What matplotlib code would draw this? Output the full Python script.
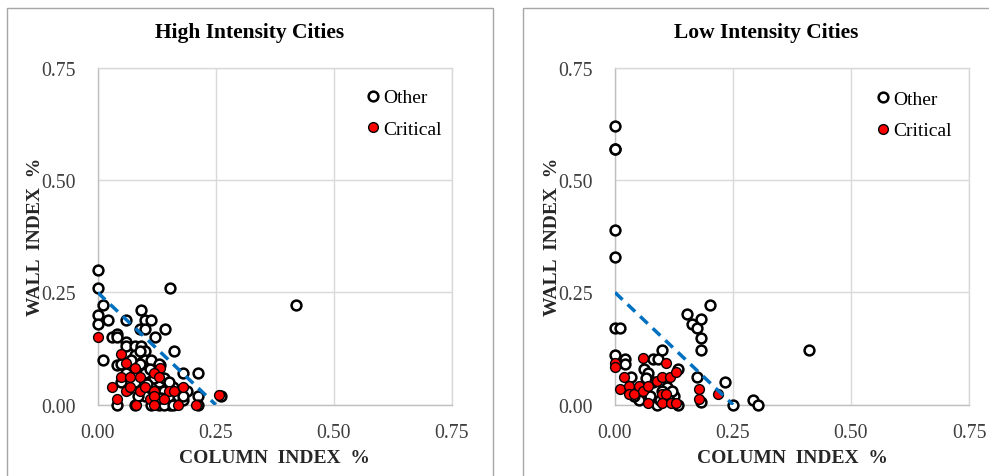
import matplotlib
matplotlib.use("Agg")
import matplotlib.pyplot as plt
from matplotlib.patches import Rectangle
from matplotlib.lines import Line2D

plt.rcParams['font.family'] = ['Liberation Serif', 'DejaVu Serif']

# ---------------- data ----------------
high_other_x = [0.0, 0.0, 0.153, 0.42, 0.011, 0.0, 0.0, 0.021, 0.061, 0.092, 0.10, 0.112,
                0.089, 0.10, 0.142, 0.030, 0.041, 0.041, 0.061, 0.061, 0.121, 0.079, 0.092,
                0.10, 0.161, 0.011, 0.041, 0.10, 0.112, 0.132, 0.181, 0.213, 0.213, 0.262,
                0.041, 0.079, 0.112, 0.153, 0.213,
                0.05, 0.07, 0.08, 0.09, 0.10, 0.11, 0.12, 0.13, 0.14, 0.14, 0.15, 0.16,
                0.17, 0.18, 0.19, 0.13, 0.14, 0.10, 0.12, 0.16, 0.08, 0.06, 0.07, 0.09,
                0.11, 0.13, 0.05, 0.18, 0.12, 0.15, 0.085, 0.105, 0.065, 0.135]
high_other_y = [0.30, 0.259, 0.259, 0.221, 0.221, 0.20, 0.18, 0.189, 0.189, 0.21, 0.189, 0.189,
                0.168, 0.168, 0.168, 0.15, 0.158, 0.15, 0.14, 0.131, 0.15, 0.131, 0.131,
                0.119, 0.119, 0.10, 0.089, 0.10, 0.10, 0.089, 0.07, 0.07, 0.019, 0.019,
                0.0, 0.0, 0.0, 0.0, 0.0,
                0.09, 0.08, 0.11, 0.09, 0.07, 0.05, 0.04, 0.05, 0.06, 0.03, 0.02, 0.04,
                0.02, 0.01, 0.03, 0.0, 0.0, 0.02, 0.01, 0.0, 0.05, 0.07, 0.10, 0.12,
                0.08, 0.09, 0.05, 0.02, 0.06, 0.05, 0.02, 0.045, 0.035, 0.015]

high_crit_x = [0.0, 0.049, 0.059, 0.079, 0.131, 0.049, 0.069, 0.090, 0.12, 0.130, 0.030,
               0.059, 0.069, 0.089, 0.10, 0.12, 0.151, 0.161, 0.181, 0.041, 0.11, 0.12,
               0.14, 0.081, 0.12, 0.171, 0.209, 0.258]
high_crit_y = [0.15, 0.112, 0.092, 0.082, 0.082, 0.061, 0.061, 0.061, 0.071, 0.061, 0.04,
               0.031, 0.04, 0.031, 0.04, 0.031, 0.031, 0.031, 0.04, 0.013, 0.013, 0.02,
               0.013, 0.0, 0.0, 0.0, 0.0, 0.021]

low_other_x = [0.0, 0.0, 0.0, 0.0, 0.0, 0.0, 0.01, 0.0, 0.021, 0.021, 0.033, 0.081, 0.091,
               0.10, 0.061, 0.133, 0.153, 0.163, 0.173, 0.183, 0.202, 0.183, 0.183, 0.173,
               0.232, 0.183, 0.25, 0.292, 0.303, 0.41, 0.051, 0.09, 0.133, 0.125,
               0.07, 0.08, 0.065, 0.11, 0.12, 0.10, 0.04, 0.075, 0.095, 0.115, 0.06]
low_other_y = [0.62, 0.57, 0.57, 0.39, 0.33, 0.17, 0.17, 0.111, 0.101, 0.09, 0.061, 0.101,
               0.101, 0.122, 0.08, 0.08, 0.201, 0.18, 0.17, 0.191, 0.222, 0.148, 0.122, 0.061,
               0.05, 0.007, 0.0, 0.01, 0.0, 0.122, 0.01, 0.0, 0.0, 0.02,
               0.07, 0.05, 0.06, 0.04, 0.03, 0.03, 0.02, 0.02, 0.01, 0.01, 0.035]

low_crit_x = [0.0, 0.0, 0.02, 0.01, 0.03, 0.03, 0.04, 0.05, 0.06, 0.06, 0.07, 0.07, 0.089,
              0.099, 0.109, 0.117, 0.129, 0.099, 0.109, 0.099, 0.119, 0.130, 0.178, 0.178,
              0.218]
low_crit_y = [0.093, 0.083, 0.062, 0.034, 0.042, 0.024, 0.024, 0.042, 0.031, 0.104, 0.042,
              0.003, 0.052, 0.062, 0.093, 0.062, 0.073, 0.024, 0.024, 0.003, 0.003, 0.003,
              0.034, 0.013, 0.024]

threshold_x = [0.0, 0.25]
threshold_y = [0.25, 0.0]

ticks = [0.0, 0.25, 0.5, 0.75]
tick_labels = ["0.00", "0.25", "0.50", "0.75"]

# ---------------- figure ----------------
W, H = 989, 477
fig = plt.figure(figsize=(W / 100, H / 100), dpi=100)

def fx(px):
    return px / W

def fy(py):
    return 1 - py / H

panel_w = 486.6
panels = [
    ("High Intensity Cities", 6.7, 97.7, 44.0,
     high_other_x, high_other_y, high_crit_x, high_crit_y, 1.02, 0.99),
    ("Low Intensity Cities", 522.7, 615.0, 561.0,
     low_other_x, low_other_y, low_crit_x, low_crit_y, 1.0, 0.985),
]

ax_w = 354.0
ax_top, ax_bot = 69.0, 405.7

for title, pleft, left, ylab_x, ox, oy, cx, cy, leg_x, leg_y in panels:
    # panel border
    fig.patches.append(Rectangle((fx(pleft), fy(490)), panel_w / W, fy(8.7) - fy(490),
                                 transform=fig.transFigure, fill=False,
                                 edgecolor='#a6a6a6', linewidth=1.0))
    fig.text(fx(pleft + panel_w / 2), fy(33), title, fontsize=15.5, fontweight='bold',
             ha='center', va='center')

    ax = fig.add_axes([fx(left), fy(ax_bot), ax_w / W, (ax_bot - ax_top) / H])
    ax.set_xlim(0, 0.75)
    ax.set_ylim(0, 0.75)
    ax.set_xticks(ticks)
    ax.set_yticks(ticks)
    ax.set_xticklabels(tick_labels)
    ax.set_yticklabels(tick_labels)
    ax.tick_params(length=0, labelsize=14.3, colors='#404040')
    ax.tick_params(axis='x', pad=13)
    ax.tick_params(axis='y', pad=16)
    ax.grid(True, color='#d9d9d9', linewidth=1.0)
    ax.set_axisbelow(True)
    for sp in ax.spines.values():
        sp.set_color('#d9d9d9')
        sp.set_linewidth(1.0)
    ax.spines['left'].set_color('#bfbfbf')
    ax.spines['bottom'].set_color('#bfbfbf')

    ax.scatter(ox, oy, s=50, facecolor='white', edgecolor='black', linewidths=1.8,
               zorder=3, clip_on=False)
    ax.scatter(cx, cy, s=50, facecolor='#ff0000', edgecolor='black', linewidths=1.0,
               zorder=4, clip_on=False)
    ax.plot(threshold_x, threshold_y, color='#0070c0', linestyle=(0, (3, 2)),
            linewidth=2.5, zorder=5)

    ax.set_xlabel("COLUMN  INDEX  %", fontsize=14, fontweight='bold', labelpad=5,
                  color='#262626')
    ax.set_ylabel("WALL  INDEX  %", fontsize=14, fontweight='bold', color='#262626')
    ax.yaxis.set_label_coords((ylab_x - left) / ax_w, 0.5, transform=ax.transAxes)

    handles = [
        Line2D([], [], marker='o', linestyle='none', markersize=7, markerfacecolor='white',
               markeredgecolor='black', markeredgewidth=1.8, label='Other'),
        Line2D([], [], marker='o', linestyle='none', markersize=7, markerfacecolor='#ff0000',
               markeredgecolor='black', markeredgewidth=1.0, label='Critical'),
    ]
    ax.legend(handles=handles, loc='upper right', frameon=False, fontsize=14,
              handletextpad=0.0, handlelength=1.0, labelspacing=0.7,
              bbox_to_anchor=(leg_x, leg_y), borderaxespad=0.5)

fig.savefig("out.png", dpi=100)
